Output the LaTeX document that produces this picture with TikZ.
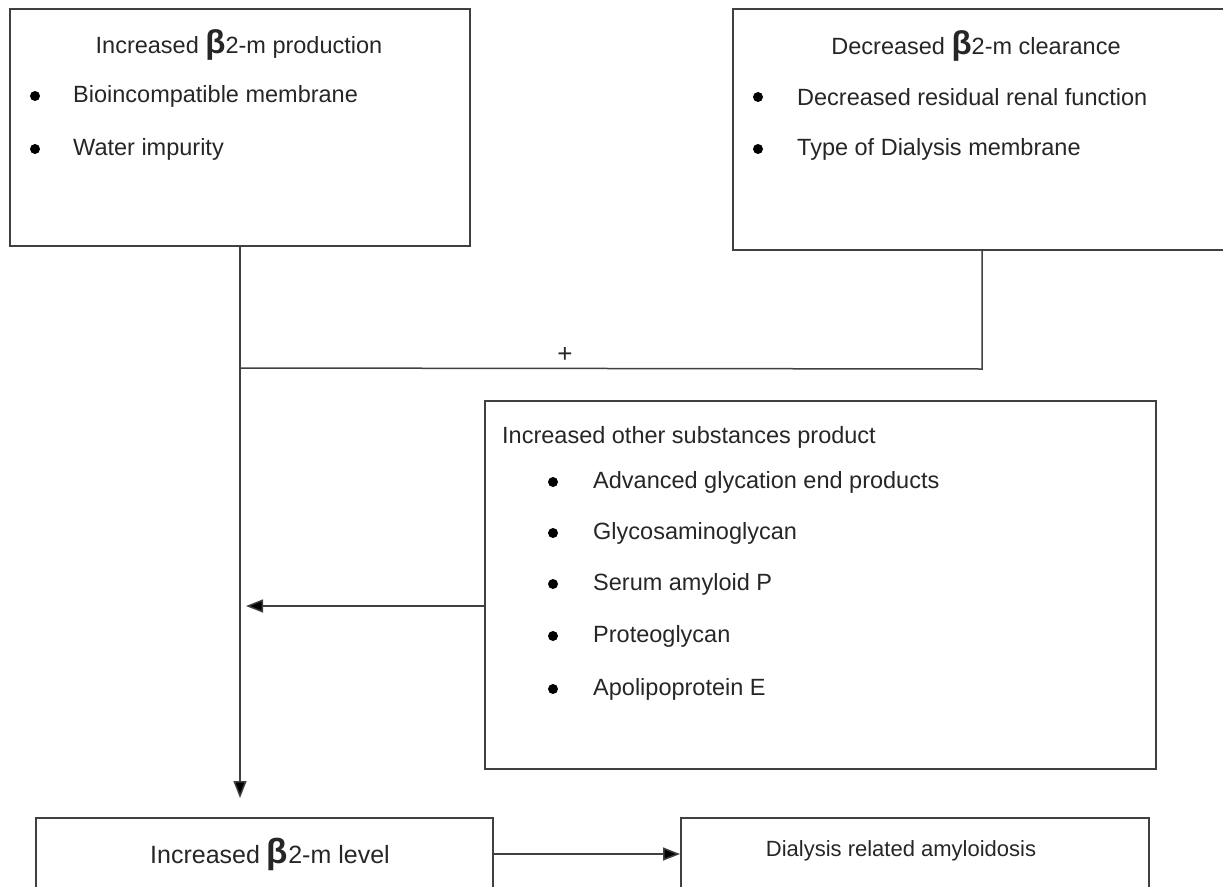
\documentclass[tikz,border=0pt]{standalone}
\usepackage{fontspec}
\setmainfont{Liberation Sans}
\usetikzlibrary{arrows.meta}
\definecolor{linec}{HTML}{404040}
\definecolor{textc}{HTML}{262626}
\newcommand{\bet}{{\fontsize{33}{33}\selectfont\bfseries β}}
\tikzset{
  box/.style={draw=linec, line width=1.5pt, anchor=north west, inner sep=0pt},
  txt/.style={text=textc, font=\fontsize{23.5}{26}\selectfont, inner sep=0pt},
  ltxt/.style={txt, anchor=west},
  dot/.style={circle, fill=black, inner sep=0pt, minimum size=10pt},
  conn/.style={draw=linec, line width=1.5pt},
  arr/.style={conn, -{Triangle[length=17pt,width=13pt,fill=black]}}
}
\begin{document}
\begin{tikzpicture}[x=1pt,y=-1pt]
\useasboundingbox (0,0) rectangle (1223,886);
\clip (0,0) rectangle (1223,886);
% boxes
\node[box, minimum width=460pt, minimum height=237pt] (b1) at (9,8) {};
\node[box, minimum width=500pt, minimum height=241pt] (b2) at (732,8) {};
\node[box, minimum width=671pt, minimum height=368pt] (b3) at (484,400) {};
\node[box, minimum width=457pt, minimum height=74pt] (b4) at (35,817) {};
\node[box, minimum width=468pt, minimum height=74pt] (b5) at (680,817) {};
% texts box 1
\node[txt] (t1) at (239,45) {Increased \bet2-m production};
\node[dot] (d11) at (35,96) {};
\node[ltxt] (l11) at (73,96) {Bioincompatible membrane};
\node[dot] (d12) at (35,149) {};
\node[ltxt] (l12) at (73,149) {Water impurity};
% texts box 2
\node[txt] (t2) at (976,46) {Decreased \bet2-m clearance};
\node[dot] (d21) at (758,97) {};
\node[ltxt] (l21) at (797,97) {Decreased residual renal function};
\node[dot] (d22) at (758,149) {};
\node[ltxt] (l22) at (797,149) {Type of Dialysis membrane};
% texts box 3
\node[ltxt] (t3) at (502,437) {Increased other substances product};
\node[dot] (d31) at (553,482) {};
\node[ltxt] (l31) at (593,482) {Advanced glycation end products};
\node[dot] (d32) at (553,533) {};
\node[ltxt] (l32) at (593,533) {Glycosaminoglycan};
\node[dot] (d33) at (553,584) {};
\node[ltxt] (l33) at (593,584) {Serum amyloid P};
\node[dot] (d34) at (553,636) {};
\node[ltxt] (l34) at (593,636) {Proteoglycan};
\node[dot] (d35) at (553,689) {};
\node[ltxt] (l35) at (593,689) {Apolipoprotein E};
% bottom texts
\node[txt, font=\fontsize{25}{28}\selectfont] (t4) at (270,854) {Increased {\fontsize{35}{35}\selectfont\bfseries β}2-m level};
\node[txt, font=\fontsize{22}{24}\selectfont] (t5) at (901,851) {Dialysis related amyloidosis};
% connectors
\coordinate (j1) at (240,368);
\coordinate (j2) at (982,369);
\coordinate (tipdown) at (240,798);
\coordinate (tipleft) at (246,606);
\node[txt, font=\fontsize{26}{28}\selectfont] (plus) at (565,355) {+};
\draw[conn] (b1.south -| j1) -- (j1);
\draw[conn] (j2 |- b2.south) -- (j2) -- (j1);
\draw[arr] (j1) -- (tipdown);
\draw[arr] (b3.west |- tipleft) -- (tipleft);
\draw[arr] (b4.east |- t4) -- (b5.west |- t4);
\end{tikzpicture}
\end{document}
